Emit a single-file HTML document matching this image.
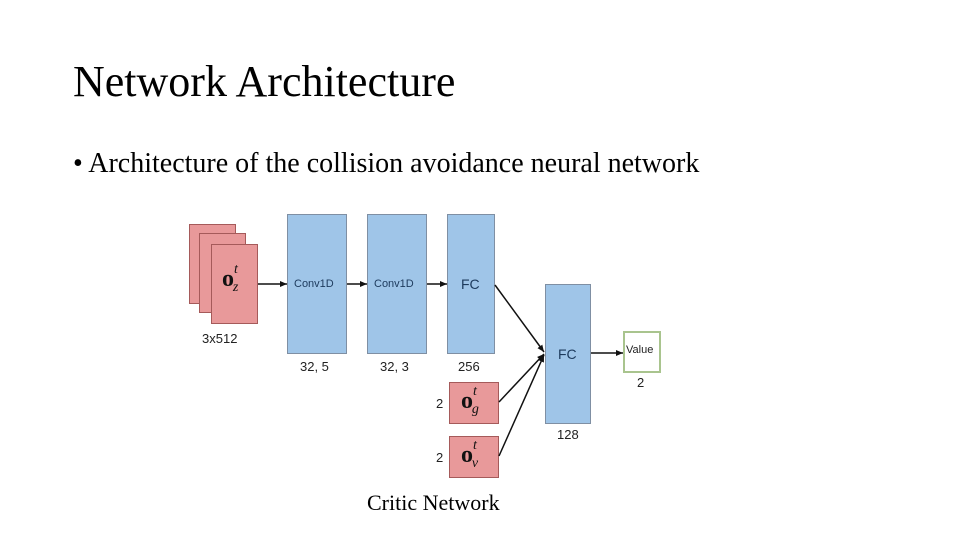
<!DOCTYPE html>
<html><head><style>
body{margin:0;width:960px;height:540px;background:#fff;position:relative;overflow:hidden;font-family:"Liberation Serif",serif}
.t{position:absolute;color:#000;white-space:nowrap}
.b{position:absolute;background:#9fc5e8;border:1.5px solid #7f8fa3;box-sizing:border-box}
.p{position:absolute;background:#e8999a;border:1.5px solid #a55a5a;box-sizing:border-box}
.s{position:absolute;font-family:"Liberation Sans",sans-serif;font-size:13px;color:#222}
.lb{font-family:"Liberation Sans",sans-serif;font-size:12px;color:#1d3a5c;position:absolute}
.m{position:absolute;font-family:"Liberation Serif",serif;font-weight:bold;font-size:24px;color:#111}
.m span{font-style:italic;font-weight:normal;font-size:14px;position:relative}
</style></head><body>
<div class="t" style="left:73px;top:56px;font-size:44px">Network Architecture</div>
<div class="t" style="left:73px;top:148px;font-size:28px">• Architecture of the collision avoidance neural network</div>
<div class="p" style="left:189px;top:224px;width:47px;height:80px"></div>
<div class="p" style="left:199px;top:233px;width:47px;height:80px"></div>
<div class="p" style="left:211px;top:244px;width:47px;height:80px"></div>
<div class="m" style="left:222px;top:266px">o<span style="top:-13px">t</span><span style="left:-5px;top:5px">z</span></div>
<div class="s" style="left:202px;top:331px">3x512</div>
<div class="b" style="left:287px;top:214px;width:60px;height:140px"></div>
<div class="lb" style="left:294px;top:278px;font-size:11px">Conv1D</div>
<div class="s" style="left:300px;top:359px">32, 5</div>
<div class="b" style="left:367px;top:214px;width:60px;height:140px"></div>
<div class="lb" style="left:374px;top:278px;font-size:11px">Conv1D</div>
<div class="s" style="left:380px;top:359px">32, 3</div>
<div class="b" style="left:447px;top:214px;width:48px;height:140px"></div>
<div class="lb" style="left:461px;top:276px;font-size:14px">FC</div>
<div class="s" style="left:458px;top:359px">256</div>
<div class="b" style="left:545px;top:284px;width:46px;height:140px"></div>
<div class="lb" style="left:558px;top:346px;font-size:14px">FC</div>
<div class="s" style="left:557px;top:427px">128</div>
<div style="position:absolute;left:623px;top:331px;width:38px;height:42px;border:2px solid #a9c48e;box-sizing:border-box;background:#fff"></div>
<div class="s" style="left:626px;top:344px;font-size:11px">Value</div>
<div class="s" style="left:637px;top:375px">2</div>
<div class="p" style="left:449px;top:382px;width:50px;height:42px"></div>
<div class="m" style="left:461px;top:388px">o<span style="top:-13px">t</span><span style="left:-5px;top:5px">g</span></div>
<div class="s" style="left:436px;top:396px">2</div>
<div class="p" style="left:449px;top:436px;width:50px;height:42px"></div>
<div class="m" style="left:461px;top:442px">o<span style="top:-13px">t</span><span style="left:-5px;top:5px">v</span></div>
<div class="s" style="left:436px;top:450px">2</div>
<svg style="position:absolute;left:0;top:0" width="960" height="540">
<defs><marker id="a" markerWidth="8" markerHeight="8" refX="7" refY="4" orient="auto" markerUnits="userSpaceOnUse"><path d="M0,1 L7,4 L0,7z" fill="#111"/></marker></defs>
<g stroke="#111" stroke-width="1.5" fill="none" marker-end="url(#a)">
<line x1="258" y1="284" x2="287" y2="284"/>
<line x1="347" y1="284" x2="367" y2="284"/>
<line x1="427" y1="284" x2="447" y2="284"/>
<line x1="495" y1="285" x2="544" y2="352"/>
<line x1="499" y1="402" x2="544" y2="354"/>
<line x1="499" y1="456" x2="544" y2="355"/>
<line x1="591" y1="353" x2="623" y2="353"/>
</g></svg>
<div class="t" style="left:367px;top:490px;font-size:22px">Critic Network</div>
</body></html>
